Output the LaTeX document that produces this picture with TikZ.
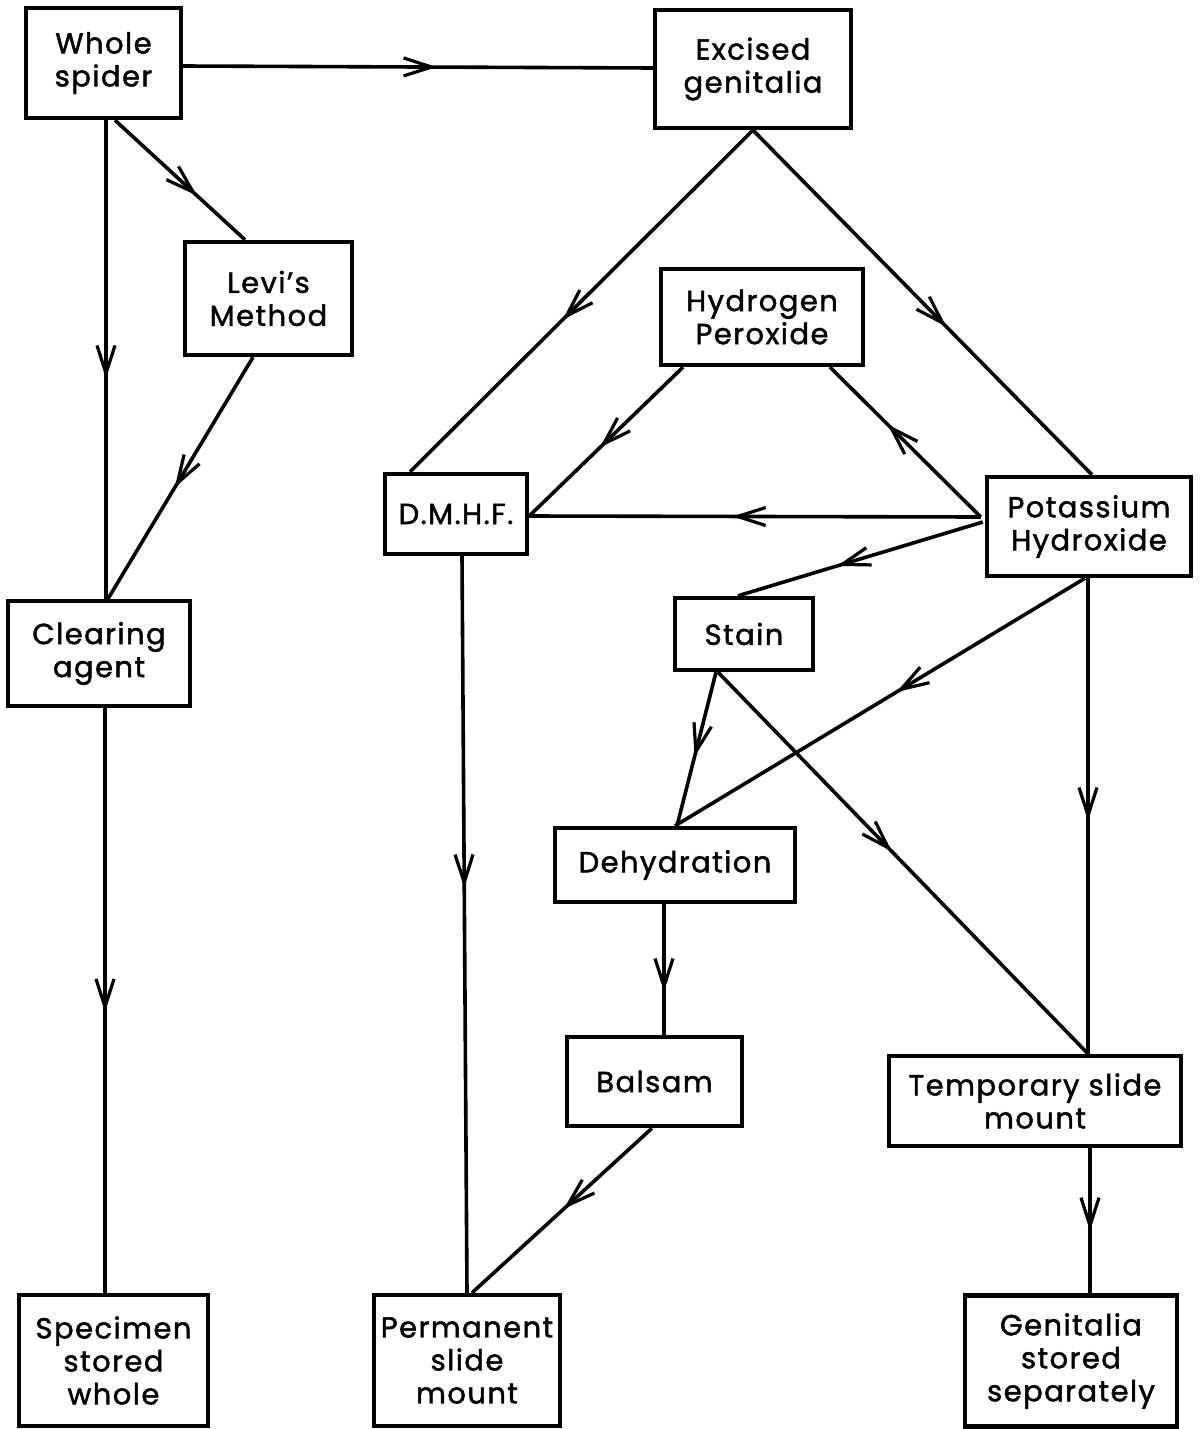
\documentclass[tikz,border=0pt]{standalone}
\usepackage{fontspec}
\setmainfont{Poppins}[FakeBold=1.6,LetterSpace=5]
\usetikzlibrary{arrows.meta,decorations.markings}
\tikzset{
  box/.style={draw, line width=2.2pt, align=center, inner sep=0pt,
    font=\fontsize{14.5}{16.5}\selectfont},
  flow/.style={line width=1.8pt, postaction={decorate},
    decoration={markings, mark=at position #1 with
      {\arrow{Straight Barb[length=14pt,width=9pt,line width=1.6pt]}}}},
}
\begin{document}
\begin{tikzpicture}[x=0.5pt,y=-0.5pt]
\useasboundingbox (0,0) rectangle (1201,1429);
% nodes
\node[box, minimum width=77.5pt, minimum height=55pt] (ws) at (103.5,63) {Whole\\spider};
\node[box, minimum width=98pt, minimum height=59pt] (ex) at (753,69) {Excised\\genitalia};
\node[box, minimum width=83.5pt, minimum height=56.5pt] (lv) at (268.5,298.5) {Levi's\\Method};
\node[box, minimum width=101pt, minimum height=48pt] (hp) at (762,317) {Hydrogen\\Peroxide};
\node[box, minimum width=71pt, minimum height=40pt] (dm) at (456,514) {D.M.H.F.};
\node[box, minimum width=102pt, minimum height=49.5pt] (ko) at (1089,526.5) {Potassium\\Hydroxide};
\node[box, minimum width=69pt, minimum height=36pt] (st) at (744,634) {Stain};
\node[box, minimum width=91pt, minimum height=52.5pt] (cl) at (99,653.5) {Clearing\\agent};
\node[box, minimum width=120pt, minimum height=37pt] (dh) at (675,865) {Dehydration};
\node[box, minimum width=87.5pt, minimum height=44.5pt] (ba) at (654.5,1081.5) {Balsam};
\node[box, minimum width=146pt, minimum height=45pt] (tm) at (1035,1101) {Temporary slide\\mount};
\node[box, minimum width=94.5pt, minimum height=65.5pt] (sp) at (113.5,1360.5) {Specimen\\stored\\whole};
\node[box, minimum width=93pt, minimum height=65.5pt] (pm) at (467,1360.5) {Permanent\\slide\\mount};
\node[box, minimum width=106pt, minimum height=65.5pt] (gs) at (1071,1361) {Genitalia\\stored\\separately};
% connectors
\draw[flow=0.54] ([yshift=-1.5pt]ws.east) -- ([yshift=0.5pt]ex.west);
\draw[flow=0.54] ([xshift=1.25pt]ws.south) -- ([xshift=3.5pt]cl.north);
\draw[flow=0.63] ([xshift=5.75pt]ws.south) -- ([xshift=-11.75pt]lv.north);
\draw[flow=0.54] ([xshift=-7.75pt]lv.south) -- ([xshift=4.5pt]cl.north);
\draw[flow=0.52] ([xshift=3pt]cl.south) -- ([xshift=-4.25pt]sp.north);
\draw[flow=0.555] (ex.south) -- ([xshift=-23pt]dm.north);
\draw[flow=0.57] (ex.south) -- ([xshift=1.5pt]ko.north);
\draw[flow=0.54] ([xshift=-39.5pt]hp.south) -- ([yshift=-1pt]dm.east);
\draw[flow=0.62] ([xshift=-2pt,yshift=4.75pt]ko.west) -- ([xshift=34pt]hp.south);
\draw[flow=0.55] ([xshift=-2pt,yshift=4.75pt]ko.west) -- ([yshift=-1pt]dm.east);
\draw[flow=0.595] ([xshift=-1pt,yshift=2.25pt]ko.west) -- ([xshift=-3pt]st.north);
\draw[flow=0.46] ([xshift=-2pt]ko.south) -- (dh.north);
\draw[flow=0.51] ([xshift=-0.5pt]ko.south) -- ([xshift=26.5pt]tm.north);
\draw[flow=0.55] ([xshift=-14pt]st.south) -- ([xshift=1pt]dh.north);
\draw[flow=0.47] ([xshift=-13pt]st.south) -- ([xshift=26.5pt]tm.north);
\draw[flow=0.45] ([xshift=3pt]dm.south) -- (pm.north);
\draw[flow=0.67] ([xshift=-5.5pt]dh.south) -- ([xshift=4.75pt]ba.north);
\draw[flow=0.49] ([xshift=-1.25pt]ba.south) -- ([xshift=2.5pt]pm.north);
\draw[flow=0.57] ([xshift=27.5pt]tm.south) -- ([xshift=9.5pt]gs.north);
\end{tikzpicture}
\end{document}
